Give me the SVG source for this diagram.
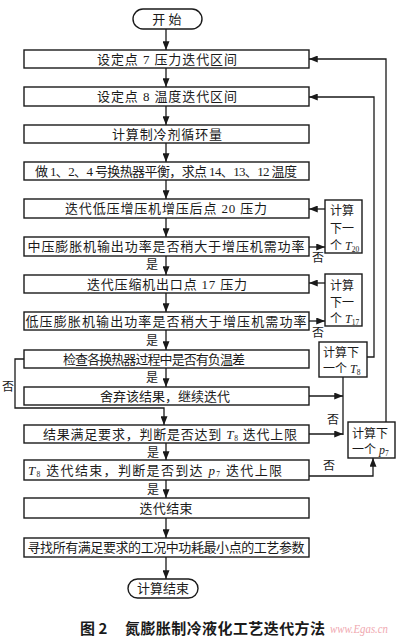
<svg xmlns="http://www.w3.org/2000/svg" width="400" height="642" viewBox="0 0 400 642">
<defs>
<style>
.box{fill:#fff;stroke:#1a1a1a;stroke-width:1.4}
.t{font-family:"Liberation Serif","Noto Sans CJK SC",serif;font-size:13px;fill:#1a1a1a;text-anchor:middle}
.tl{font-family:"Liberation Serif","Noto Sans CJK SC",serif;font-size:13px;fill:#1a1a1a}
.ts{font-family:"Liberation Serif","Noto Sans CJK SC",serif;font-size:12px;fill:#1a1a1a}
.lbl{font-family:"Noto Sans CJK SC",serif;font-size:12px;fill:#1a1a1a}
.ln{fill:none;stroke:#1a1a1a;stroke-width:1.3}
.it{font-style:italic}
.sub{font-size:7.5px}
.cap{font-family:"Noto Sans CJK SC",sans-serif;font-size:15px;font-weight:bold;fill:#1a1a1a}
</style>
<marker id="ar" viewBox="0 0 10 8" refX="10" refY="4" markerWidth="9" markerHeight="7" markerUnits="userSpaceOnUse" orient="auto">
<path d="M0,0 L10,4 L0,8 Z" fill="#1a1a1a"/>
</marker>
</defs>
<rect width="400" height="642" fill="#fff"/>

<g id="connectors">
<path class="ln" marker-end="url(#ar)" d="M166,29 V50"/>
<path class="ln" marker-end="url(#ar)" d="M166,68 V87"/>
<path class="ln" marker-end="url(#ar)" d="M166,106 V125"/>
<path class="ln" marker-end="url(#ar)" d="M166,143 V162"/>
<path class="ln" marker-end="url(#ar)" d="M166,180 V199"/>
<path class="ln" marker-end="url(#ar)" d="M166,218 V237"/>
<path class="ln" marker-end="url(#ar)" d="M166,256 V275"/>
<path class="ln" marker-end="url(#ar)" d="M166,293 V312"/>
<path class="ln" marker-end="url(#ar)" d="M166,330 V350"/>
<path class="ln" marker-end="url(#ar)" d="M166,368 V387"/>
<path class="ln" marker-end="url(#ar)" d="M24,359 H15 V408 H164 V425"/>
<path class="ln" marker-end="url(#ar)" d="M166,443 V460"/>
<path class="ln" marker-end="url(#ar)" d="M166,480 V498"/>
<path class="ln" marker-end="url(#ar)" d="M166,518 V538"/>
<path class="ln" marker-end="url(#ar)" d="M166,557 V579"/>
<path class="ln" marker-end="url(#ar)" d="M325,209 H309"/>
<path class="ln" marker-end="url(#ar)" d="M309,247 H325"/>
<path class="ln" marker-end="url(#ar)" d="M325,283 H309"/>
<path class="ln" marker-end="url(#ar)" d="M309,321 H325"/>
<path class="ln" marker-end="url(#ar)" d="M367,357 H374 V97 H309"/>
<path class="ln" marker-end="url(#ar)" d="M386,422 V59 H309"/>
<path class="ln" marker-end="url(#ar)" d="M309,396 H343"/>
<path class="ln" marker-end="url(#ar)" d="M309,434 H343"/>
<path class="ln" d="M343,377 V435"/>
<path class="ln" marker-end="url(#ar)" d="M309,476 H373 V458"/>
<text class="lbl" x="146" y="269">是</text>
<text class="lbl" x="146" y="345">是</text>
<text class="lbl" x="146" y="382">是</text>
<text class="lbl" x="147" y="457">是</text>
<text class="lbl" x="147" y="494">是</text>
<text class="lbl" x="2" y="391">否</text>
<text class="lbl" x="312" y="262">否</text>
<text class="lbl" x="312" y="337">否</text>
<text class="lbl" x="327" y="424">否</text>
<text class="lbl" x="323" y="470">否</text>
</g>

<g id="start"><rect class="box" x="133" y="9" width="69" height="20" rx="10"/><text class="t" x="167" y="24">开 始</text></g>
<g id="n1"><rect class="box" x="24" y="50" width="285" height="18"/><text class="t" x="167" y="64" textLength="140" lengthAdjust="spacing">设定点 7 压力迭代区间</text></g>
<g id="n2"><rect class="box" x="24" y="87" width="285" height="19"/><text class="t" x="167" y="101" textLength="140" lengthAdjust="spacing">设定点 8 温度迭代区间</text></g>
<g id="n3"><rect class="box" x="24" y="125" width="285" height="18"/><text class="t" x="167" y="139" textLength="110" lengthAdjust="spacing">计算制冷剂循环量</text></g>
<g id="n4"><rect class="box" x="24" y="162" width="285" height="18"/><text class="t" x="166" y="176" textLength="262" lengthAdjust="spacing">做 1、2、4 号换热器平衡，求点 14、13、12 温度</text></g>
<g id="n5"><rect class="box" x="24" y="199" width="285" height="19"/><text class="t" x="166" y="213" textLength="202" lengthAdjust="spacing">迭代低压增压机增压后点 20 压力</text></g>
<g id="n6"><rect class="box" x="24" y="237" width="285" height="19"/><text class="t" x="166" y="251" textLength="277" lengthAdjust="spacing">中压膨胀机输出功率是否稍大于增压机需功率</text></g>
<g id="n7"><rect class="box" x="24" y="275" width="285" height="18"/><text class="t" x="167" y="289" textLength="160" lengthAdjust="spacing">迭代压缩机出口点 17 压力</text></g>
<g id="n8"><rect class="box" x="24" y="312" width="285" height="18"/><text class="t" x="166" y="326" textLength="281" lengthAdjust="spacing">低压膨胀机输出功率是否稍大于增压机需功率</text></g>
<g id="n9"><rect class="box" x="24" y="350" width="285" height="18"/><text class="t" x="154" y="364" textLength="182" lengthAdjust="spacing">检查各换热器过程中是否有负温差</text></g>
<g id="n10"><rect class="box" x="24" y="387" width="285" height="18"/><text class="t" x="165" y="401" textLength="130" lengthAdjust="spacing">舍弃该结果，继续迭代</text></g>
<g id="n11"><rect class="box" x="24" y="425" width="285" height="18"/><text class="tl" x="43" y="439" textLength="254" lengthAdjust="spacing">结果满足要求，判断是否达到 <tspan class="it">T</tspan><tspan class="sub" dy="2">8</tspan><tspan dy="-2"> 迭代上限</tspan></text></g>
<g id="n12"><rect class="box" x="24" y="460" width="285" height="20"/><text class="tl" x="28" y="475" textLength="254" lengthAdjust="spacing"><tspan class="it">T</tspan><tspan class="sub" dy="2">8</tspan><tspan dy="-2"> 迭代结束，判断是否到达 </tspan><tspan class="it">p</tspan><tspan class="sub" dy="2">7</tspan><tspan dy="-2"> 迭代上限</tspan></text></g>
<g id="n13"><rect class="box" x="24" y="498" width="285" height="20"/><text class="t" x="166" y="513" textLength="53" lengthAdjust="spacing">迭代结束</text></g>
<g id="n14"><rect class="box" x="24" y="538" width="285" height="19"/><text class="t" x="166" y="552" textLength="277" lengthAdjust="spacing">寻找所有满足要求的工况中功耗最小点的工艺参数</text></g>
<g id="end"><rect class="box" x="128" y="579" width="70" height="19" rx="9.5"/><text class="t" x="163" y="593">计算结束</text></g>

<g id="r20"><rect class="box" x="325" y="200" width="37" height="53"/><text class="ts" x="330" y="215">计算</text><text class="ts" x="330" y="233">下一</text><text class="ts" x="330" y="250">个 <tspan class="it">T</tspan><tspan class="sub" dy="2">20</tspan></text></g>
<g id="r17"><rect class="box" x="325" y="274" width="37" height="52"/><text class="ts" x="330" y="290">计算</text><text class="ts" x="330" y="307">下一</text><text class="ts" x="330" y="323">个 <tspan class="it">T</tspan><tspan class="sub" dy="2">17</tspan></text></g>
<g id="r8"><rect class="box" x="319" y="342" width="48" height="35"/><text class="ts" x="323" y="357">计算下</text><text class="ts" x="323" y="373">一个 <tspan class="it">T</tspan><tspan class="sub" dy="2">8</tspan></text></g>
<g id="rp7"><rect class="box" x="348" y="422" width="47" height="36"/><text class="ts" x="352" y="438">计算下</text><text class="ts" x="352" y="454">一个 <tspan class="it">p</tspan><tspan class="sub" dy="2">7</tspan></text></g>

<text x="330" y="633" font-family="Liberation Serif,serif" font-style="italic" font-size="13" fill="#f0a8b0" textLength="58" lengthAdjust="spacingAndGlyphs">www.Egas.cn</text>
<g id="caption"><text class="cap" x="80" y="634">图 2</text><text class="cap" x="125" y="634" textLength="200" lengthAdjust="spacing">氮膨胀制冷液化工艺迭代方法</text></g>
</svg>
